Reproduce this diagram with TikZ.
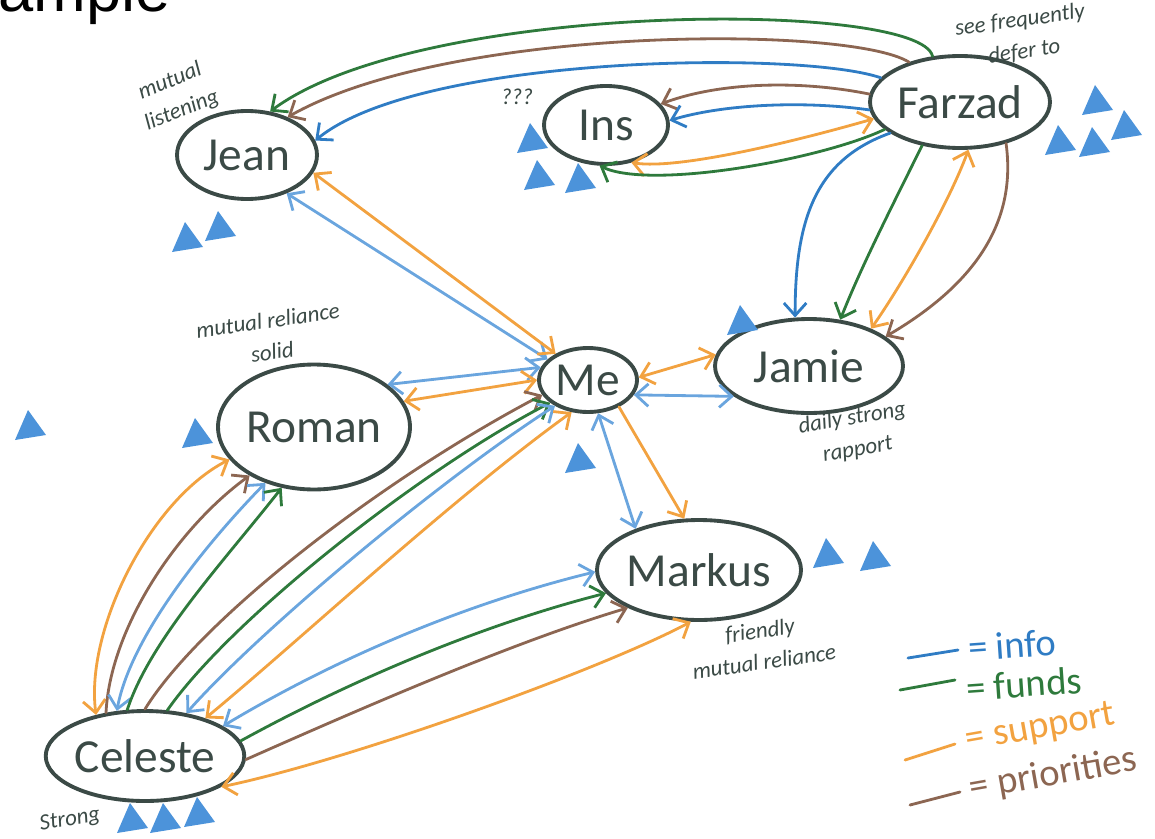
\documentclass[tikz,border=0pt]{standalone}
\usepackage{fontspec}
\setmainfont{Liberation Sans}
\newfontfamily\handfont{Carlito}
\usetikzlibrary{shapes.geometric}
\usetikzlibrary{arrows.meta}

\definecolor{inkgray}{HTML}{3B4A46}
\definecolor{infoblue}{HTML}{2F7CC4}
\definecolor{lightblue}{HTML}{6AA5DE}
\definecolor{fundgreen}{HTML}{2E7A3C}
\definecolor{supportorange}{HTML}{F2A240}
\definecolor{prioritybrown}{HTML}{8C6652}
\definecolor{tricolor}{HTML}{4C93DA}

\begin{document}
\begin{tikzpicture}[x=0.02cm, y=-0.02cm]
            \tikzstyle{person} = [ellipse, draw=inkgray, line width=2.2pt, inner sep=0pt, text=inkgray, font=\handfont\fontsize{27}{29}\selectfont]
            \tikzstyle{note} = [text=inkgray, align=center, inner sep=1pt, font=\handfont\itshape\fontsize{13}{18}\selectfont]
            \tikzstyle{line} = [line width=1.6pt, line cap=round, -{Straight Barb[length=2.5mm,width=4.5mm]}]
            \tikzstyle{both} = [line, {Straight Barb[length=2.5mm,width=4.5mm]}-{Straight Barb[length=2.5mm,width=4.5mm]}]
            \tikzstyle{key} = [anchor=west, inner sep=1pt, font=\handfont\fontsize{22}{22}\selectfont]
            \tikzstyle{tri} = [fill=tricolor]
            \useasboundingbox (0,0) rectangle (1155,838);
            \begin{scope}
                \clip (0,0) rectangle (1155,838);
                \node[anchor=base west, inner sep=0pt, font=\fontsize{36}{36}\selectfont] (title) at (-2,12) {ample};
            \end{scope}
            % people
            \node[person, minimum width=2.8cm, minimum height=1.76cm] (jean) at (247,155) {Jean};
            \node[person, minimum width=2.48cm, minimum height=1.56cm] (ins) at (606,125) {Ins};
            \node[person, minimum width=3.6cm, minimum height=1.84cm] (farzad) at (960,102) {Farzad};
            \node[person, minimum width=1.96cm, minimum height=1.28cm] (me) at (588,380) {Me};
            \node[person, minimum width=3.76cm, minimum height=1.88cm] (jamie) at (809,366) {Jamie};
            \node[person, minimum width=3.84cm, minimum height=2.5cm] (roman) at (314,427) {Roman};
            \node[person, minimum width=4.04cm, minimum height=2.0cm] (markus) at (699,570) {Markus};
            \node[person, minimum width=3.8cm, minimum height=1.8cm] (celeste) at (145,756) {Celeste};
            % notes
            \node[note, rotate=22] (jeannote) at (176,96) {mutual\\listening};
            \node[note] (insnote) at (517,97) {???};
            \node[note, rotate=8] (farzadnote) at (1022,36) {see frequently\\defer to};
            \node[note, rotate=8] (romannote) at (270,336) {mutual reliance\\solid};
            \node[note, rotate=10] (jamienote) at (855,434) {daily strong\\rapport};
            \node[note, rotate=8] (markusnote) at (762,646) {friendly\\mutual reliance};
            \node[note, rotate=10] (celestenote) at (70,820) {Strong};
            % Farzad
            \draw[line, fundgreen] (farzad.121) .. controls (920,0) and (420,0) .. (jean.62);
            \draw[line, prioritybrown] (farzad.142) .. controls (850,25) and (450,25) .. (jean.43);
            \draw[line, infoblue] (farzad.163) .. controls (800,50) and (420,55) .. (jean.12);
            \draw[line, prioritybrown] (farzad.175) .. controls (800,80) and (720,82) .. (ins.21);
            \draw[line, infoblue] (farzad.185) .. controls (800,100) and (720,105) .. (ins.4);
            \draw[both, supportorange] (ins.-56) .. controls (680,170) and (800,140) .. (farzad.191);
            \draw[line, fundgreen] (farzad.200) .. controls (820,160) and (650,190) .. (ins.-99);
            \draw[line, infoblue] (farzad.204) .. controls (815,160) and (795,220) .. (jamie.106);
            \draw[line, fundgreen] (farzad.-131) .. controls (885,220) and (860,270) .. (jamie.56);
            \draw[both, supportorange] (jamie.31) .. controls (905,280) and (950,200) .. (farzad.-80);
            \draw[line, prioritybrown] (farzad.-42) .. controls (1018,230) and (965,290) .. (jamie.21);
            % Me
            \draw[both, lightblue] (jean.-44) -- (me.153);
            \draw[both, supportorange] (jean.-15) -- (me.141);
            \draw[both, lightblue] (roman.30) -- (me.165);
            \draw[both, supportorange] (roman.16) -- (me.180);
            \draw[both, supportorange] (me.3) -- (jamie.173);
            \draw[both, lightblue] (me.-18) -- (jamie.202);
            \draw[both, lightblue] (me.-73) -- (markus.147);
            \draw[line, supportorange] (me.-41) -- (markus.106);
            % Celeste
            \draw[both, supportorange] (celeste.140) .. controls (85,630) and (150,500) .. (roman.201);
            \draw[line, prioritybrown] (celeste.132) .. controls (110,630) and (175,530) .. (roman.217);
            \draw[both, lightblue] (celeste.122) .. controls (130,640) and (200,550) .. (roman.229);
            \draw[line, fundgreen] (celeste.111) .. controls (150,640) and (225,560) .. (roman.242);
            \draw[line, prioritybrown] (celeste.90) .. controls (200,620) and (380,480) .. (me.198);
            \draw[line, fundgreen] (celeste.64) .. controls (230,620) and (420,470) .. (me.211);
            \draw[both, lightblue] (celeste.46) .. controls (260,630) and (440,480) .. (me.218);
            \draw[both, supportorange] (celeste.32) .. controls (300,640) and (450,500) .. (me.243);
            \draw[both, lightblue] (celeste.21) .. controls (350,650) and (480,600) .. (markus.181);
            \draw[line, fundgreen] (celeste.9) .. controls (370,670) and (500,620) .. (markus.194);
            \draw[line, prioritybrown] (celeste.-2) .. controls (380,700) and (520,640) .. (markus.208);
            \draw[both, supportorange] (markus.261) .. controls (600,670) and (350,760) .. (celeste.-22);
            % triangles
            \foreach \tx/\ty in {185/237, 218/226, 530/138, 537/175, 578/178, 1095/100, 1058/140, 1092/142, 1124/125, 28/425, 195/433, 578/458, 740/320, 826/553, 873/556, 130/818, 163/818, 197/812}
                \fill[tri] (\tx-13,\ty+15) -- (\tx,\ty-15) -- (\tx+18,\ty+10) -- cycle;
            % legend
            \draw[line width=1.6pt, line cap=round, infoblue] (908,658) -- (958,650);
            \draw[line width=1.6pt, line cap=round, fundgreen] (900,690) -- (955,680);
            \draw[line width=1.6pt, line cap=round, supportorange] (905,760) -- (955,744);
            \draw[line width=1.6pt, line cap=round, prioritybrown] (910,805) -- (960,792);
            \node[key, text=infoblue, rotate=4] (infokey) at (966,648) {= info};
            \node[key, text=fundgreen, rotate=4] (fundskey) at (964,688) {= funds};
            \node[key, text=supportorange, rotate=10] (supportkey) at (964,742) {= support};
            \node[key, text=prioritybrown, rotate=10] (prioritykey) at (968,790) {= priorities};
        \end{tikzpicture}
\end{document}
